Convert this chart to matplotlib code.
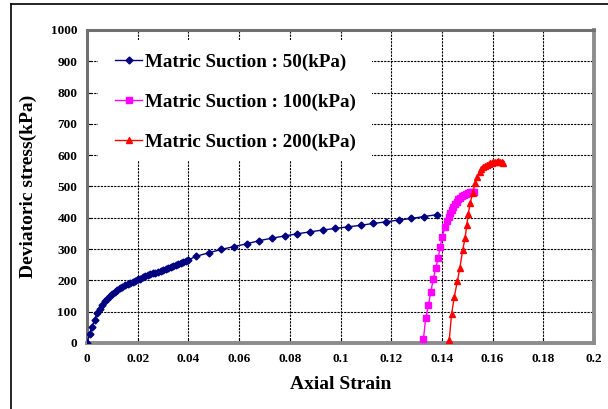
import matplotlib.pyplot as plt
from matplotlib.lines import Line2D
from matplotlib.patches import Rectangle

# Matric suction 50 kPa
strain_50 = [0.000, 0.001, 0.002, 0.003, 0.004, 0.005, 0.006, 0.007, 0.008, 0.009,
             0.010, 0.011, 0.012, 0.013, 0.014, 0.015, 0.016, 0.017, 0.018, 0.019,
             0.020, 0.021, 0.022, 0.023, 0.024, 0.025, 0.026, 0.027, 0.028, 0.029,
             0.030, 0.031, 0.032, 0.033, 0.034, 0.035, 0.036, 0.037, 0.038, 0.039,
             0.040, 0.043, 0.048, 0.053, 0.058, 0.063, 0.068, 0.073, 0.078, 0.083,
             0.088, 0.093, 0.098, 0.103, 0.108, 0.113, 0.118, 0.123, 0.128, 0.133,
             0.138]
stress_50 = [0, 28, 52, 75, 95, 110, 122, 133, 142, 150,
             157, 163, 169, 175, 180, 184, 188, 192, 196, 199,
             203, 206, 210, 213, 216, 219, 222, 225, 228, 231,
             234, 237, 240, 243, 246, 249, 252, 255, 258, 262,
             265, 277, 288, 299, 308, 317, 327, 335, 342, 349,
             355, 361, 366, 371, 376, 382, 387, 393, 398, 404,
             410]

# Matric suction 100 kPa
strain_100 = [0.1327, 0.1336, 0.1347, 0.1356, 0.1366, 0.1375, 0.1386, 0.1393, 0.1402,
              0.1412, 0.1420, 0.1427, 0.1433, 0.1439, 0.1445, 0.1451, 0.1458, 0.1465,
              0.1472, 0.1480, 0.1488, 0.1496, 0.1504, 0.1512, 0.1519, 0.1525]
stress_100 = [12, 79, 121, 164, 203, 238, 273, 308, 340,
              372, 390, 403, 415, 425, 436, 445, 452, 459,
              464, 469, 473, 476, 479, 481, 482, 483]

# Matric suction 200 kPa
strain_200 = [0.1429, 0.1438, 0.1449, 0.1461, 0.1471, 0.1482, 0.1491, 0.1498, 0.1504,
              0.1511, 0.1521, 0.1531, 0.1540, 0.1550, 0.1556, 0.1563, 0.1570, 0.1577,
              0.1584, 0.1590, 0.1597, 0.1603, 0.1610, 0.1616, 0.1623, 0.1629, 0.1636,
              0.1642]
stress_200 = [10, 92, 148, 198, 241, 297, 334, 376, 411,
              446, 478, 510, 531, 547, 555, 561, 565, 568,
              571, 574, 576, 577, 578, 579, 580, 579, 578,
              576]

labels = ['Matric Suction : 50(kPa)', 'Matric Suction : 100(kPa)',
          'Matric Suction : 200(kPa)']

plt.rcParams['font.family'] = ['Liberation Serif', 'DejaVu Serif']
plt.rcParams['font.weight'] = 'bold'

fig = plt.figure(figsize=(6.08, 4.09), dpi=100)
ax = fig.add_axes([0.1431, 0.1614, 0.977 - 0.1431, 0.9267 - 0.1614])

# outer frame of the picture (cut off at right and bottom)
fig.add_artist(Line2D([11 / 608, 11 / 608], [0, 1 - 4 / 409], transform=fig.transFigure,
                      color='black', lw=1.2))
fig.add_artist(Line2D([11 / 608, 1], [1 - 4 / 409, 1 - 4 / 409], transform=fig.transFigure,
                      color='black', lw=1.2))

ax.plot(strain_50, stress_50, color='#000080', lw=1, marker='D', ms=3.5,
        label=labels[0], zorder=3)
ax.plot(strain_100, stress_100, color='#FF00FF', lw=1, marker='s', ms=5,
        label=labels[1], zorder=3)
ax.plot(strain_200, stress_200, color='#FF0000', lw=1, marker='^', ms=5,
        label=labels[2], zorder=3)

ax.set_xlim(0, 0.2)
ax.set_ylim(0, 1000)
ax.set_xticks([0, 0.02, 0.04, 0.06, 0.08, 0.1, 0.12, 0.14, 0.16, 0.18, 0.2])
ax.set_xticklabels(['0', '0.02', '0.04', '0.06', '0.08', '0.1', '0.12', '0.14',
                    '0.16', '0.18', '0.2'])
ax.set_yticks(range(0, 1001, 100))
ax.tick_params(labelsize=9.5, direction='in', length=3, pad=7)
ax.grid(True, color='black', linestyle=(0, (2, 1)), lw=0.8)

for side in ['left', 'top']:
    ax.spines[side].set_color('#707070')
    ax.spines[side].set_linewidth(2.2)
for side in ['right', 'bottom']:
    ax.spines[side].set_color('#8c8c8c')
    ax.spines[side].set_linewidth(2.8)

ax.set_xlabel('Axial Strain', fontsize=14, fontweight='bold', labelpad=8)
ax.set_ylabel('Deviatoric stress(kPa)', fontsize=14, fontweight='bold', labelpad=10)

# white area behind the legend, covering the grid
ax.add_patch(Rectangle((0.0043, 581), 0.108, 387, transform=ax.transData,
                       facecolor='white', edgecolor='none', zorder=2))

leg = ax.legend(loc='upper left', bbox_to_anchor=(0.055, 0.926), frameon=False,
                handlelength=1.45, handletextpad=0.15, labelspacing=1.2,
                borderaxespad=0, borderpad=0,
                prop={'weight': 'bold', 'size': 13.7})

fig.savefig('out.png', dpi=100)
